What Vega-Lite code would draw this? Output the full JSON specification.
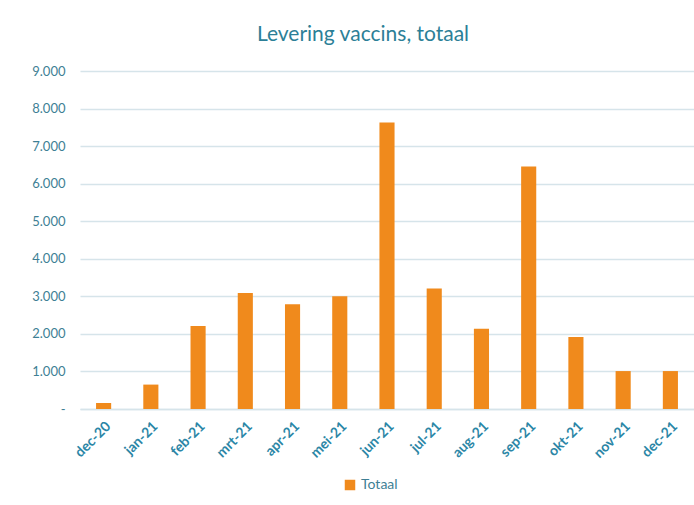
{
  "$schema": "https://vega.github.io/schema/vega-lite/v6.json",
  "width": 614,
  "height": 338,
  "autosize": "none",
  "padding": {"left": 80, "top": 71, "right": 0, "bottom": 96},
  "background": "white",
  "config": {"font": "Lato", "view": {"stroke": null}},
  "title": {
    "text": "Levering vaccins, totaal",
    "fontSize": 21,
    "fontWeight": "normal",
    "color": "#2c7f97",
    "offset": 20,
    "dx": -24
  },
  "data": {
    "values": [
      {"maand": "dec-20", "serie": "Totaal", "waarde": 160},
      {"maand": "jan-21", "serie": "Totaal", "waarde": 650},
      {"maand": "feb-21", "serie": "Totaal", "waarde": 2210},
      {"maand": "mrt-21", "serie": "Totaal", "waarde": 3090},
      {"maand": "apr-21", "serie": "Totaal", "waarde": 2790},
      {"maand": "mei-21", "serie": "Totaal", "waarde": 3000},
      {"maand": "jun-21", "serie": "Totaal", "waarde": 7630},
      {"maand": "jul-21", "serie": "Totaal", "waarde": 3210},
      {"maand": "aug-21", "serie": "Totaal", "waarde": 2140},
      {"maand": "sep-21", "serie": "Totaal", "waarde": 6460},
      {"maand": "okt-21", "serie": "Totaal", "waarde": 1920},
      {"maand": "nov-21", "serie": "Totaal", "waarde": 1010},
      {"maand": "dec-21", "serie": "Totaal", "waarde": 1010}
    ]
  },
  "mark": {"type": "bar"},
  "encoding": {
    "x": {
      "field": "maand",
      "type": "nominal",
      "sort": null,
      "title": null,
      "scale": {"paddingInner": 0.68, "paddingOuter": 0.34},
      "axis": {
        "labelAngle": -45,
        "labelColor": "#2b86a6",
        "labelFontSize": 14,
        "labelFontWeight": "bold",
        "labelPadding": 10,
        "ticks": false,
        "domainColor": "#d6e4ea",
        "domainWidth": 1.5
      }
    },
    "y": {
      "field": "waarde",
      "type": "quantitative",
      "title": null,
      "scale": {"domain": [0, 9000]},
      "axis": {
        "values": [0, 1000, 2000, 3000, 4000, 5000, 6000, 7000, 8000, 9000],
        "labelExpr": "datum.value == 0 ? '-' : replace(format(datum.value, ','), ',', '.')",
        "labelColor": "#3e7f95",
        "labelFontSize": 13,
        "labelPadding": 15,
        "ticks": false,
        "domain": false,
        "gridColor": "#d6e4ea",
        "gridWidth": 1.5
      }
    },
    "color": {
      "field": "serie",
      "type": "nominal",
      "scale": {"range": ["#f08a1c"]},
      "legend": {
        "title": null,
        "orient": "none",
        "legendX": 263,
        "legendY": 407,
        "direction": "horizontal",
        "symbolType": "square",
        "symbolSize": 110,
        "labelFontSize": 14,
        "labelColor": "#3e7f95"
      }
    }
  }
}
